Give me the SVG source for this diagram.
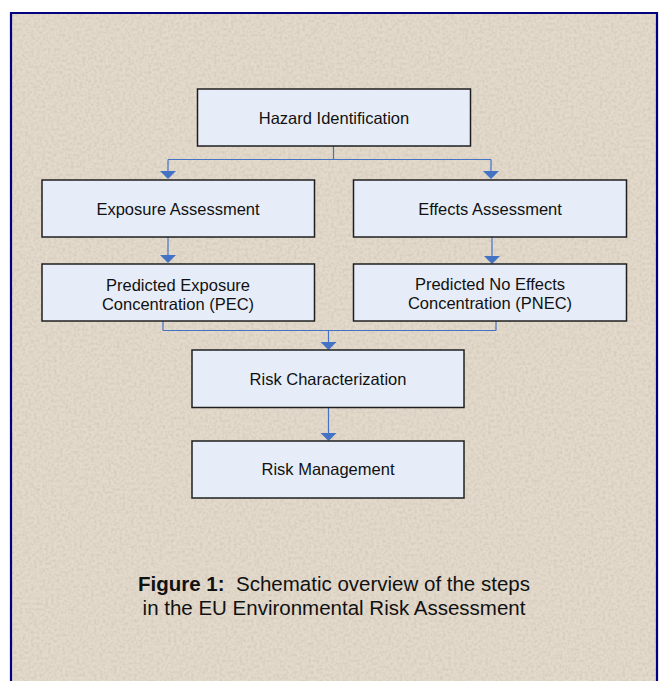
<svg xmlns="http://www.w3.org/2000/svg" width="662" height="681" viewBox="0 0 662 681">
  <defs>
    <filter id="grain" x="0" y="0" width="100%" height="100%">
      <feTurbulence type="fractalNoise" baseFrequency="0.35" numOctaves="2" seed="7" result="n"/>
      <feColorMatrix in="n" type="matrix" values="0 0 0 0 0.45  0 0 0 0 0.40  0 0 0 0 0.33  0 0 0 -1.6 1.0" result="c"/>
      <feComposite in="c" in2="SourceGraphic" operator="in"/>
    </filter>
    <style>
      .box { fill: #E7EDF8; stroke: #1f1f1f; stroke-width: 1.5; }
      .lbl { font-family: "Liberation Sans", Arial, sans-serif; font-size: 16.5px; fill: #111; text-anchor: middle; }
      .cap { font-family: "Liberation Sans", Arial, sans-serif; font-size: 20.5px; fill: #111; text-anchor: middle; }
      .ln { fill: none; stroke: #4472C4; stroke-width: 1.2; }
      .head { fill: #4472C4; }
    </style>
  </defs>

  <rect x="0" y="0" width="662" height="681" fill="#ffffff"/>
  <rect x="11" y="13" width="646" height="680" fill="#E3DACC"/>
  <rect x="11" y="13" width="646" height="680" fill="#E3DACC" filter="url(#grain)" opacity="0.4"/>
  <path d="M11,690 V13 H657 V690" fill="none" stroke="#000080" stroke-width="2.2"/>

  <g id="connectors">
    <path class="ln" d="M333.5,146 V159.5 M168,159.5 H491 M168,159.5 V172 M491,159.5 V172"/>
    <polygon class="head" points="160,171 176,171 168,179"/>
    <polygon class="head" points="483,171 499,171 491,179"/>
    <path class="ln" d="M168,237 V255"/>
    <polygon class="head" points="160,255 176,255 168,263"/>
    <path class="ln" d="M492,237 V256"/>
    <polygon class="head" points="484,256 500,256 492,264"/>
    <path class="ln" d="M163,321 V330.5 M496,321 V330.5 M163,330.5 H496 M328.5,330.5 V342"/>
    <polygon class="head" points="320.5,342 336.5,342 328.5,350"/>
    <path class="ln" d="M328.5,407.5 V433"/>
    <polygon class="head" points="320.5,433 336.5,433 328.5,441"/>
  </g>

  <g id="hazard">
    <rect class="box" x="197.5" y="89" width="273" height="57"/>
    <text class="lbl" x="334" y="124">Hazard Identification</text>
  </g>
  <g id="exposure">
    <rect class="box" x="42" y="180" width="272.5" height="57"/>
    <text class="lbl" x="178" y="214.5">Exposure Assessment</text>
  </g>
  <g id="effects">
    <rect class="box" x="353.5" y="180" width="273" height="57"/>
    <text class="lbl" x="490" y="214.5">Effects Assessment</text>
  </g>
  <g id="pec">
    <rect class="box" x="42" y="264" width="272.5" height="57"/>
    <text class="lbl" x="178" y="291">Predicted Exposure</text>
    <text class="lbl" x="178" y="310">Concentration (PEC)</text>
  </g>
  <g id="pnec">
    <rect class="box" x="353.5" y="264" width="273" height="57"/>
    <text class="lbl" x="490" y="290">Predicted No Effects</text>
    <text class="lbl" x="490" y="309">Concentration (PNEC)</text>
  </g>
  <g id="risk-characterization">
    <rect class="box" x="192" y="350" width="272" height="57.5"/>
    <text class="lbl" x="328" y="385">Risk Characterization</text>
  </g>
  <g id="risk-management">
    <rect class="box" x="192" y="441" width="272" height="57"/>
    <text class="lbl" x="328" y="474.5">Risk Management</text>
  </g>

  <g id="caption">
    <text class="cap" x="334" y="591" xml:space="preserve"><tspan font-weight="bold">Figure 1:</tspan>  Schematic overview of the steps</text>
    <text class="cap" x="334" y="615">in the EU Environmental Risk Assessment</text>
  </g>
</svg>
